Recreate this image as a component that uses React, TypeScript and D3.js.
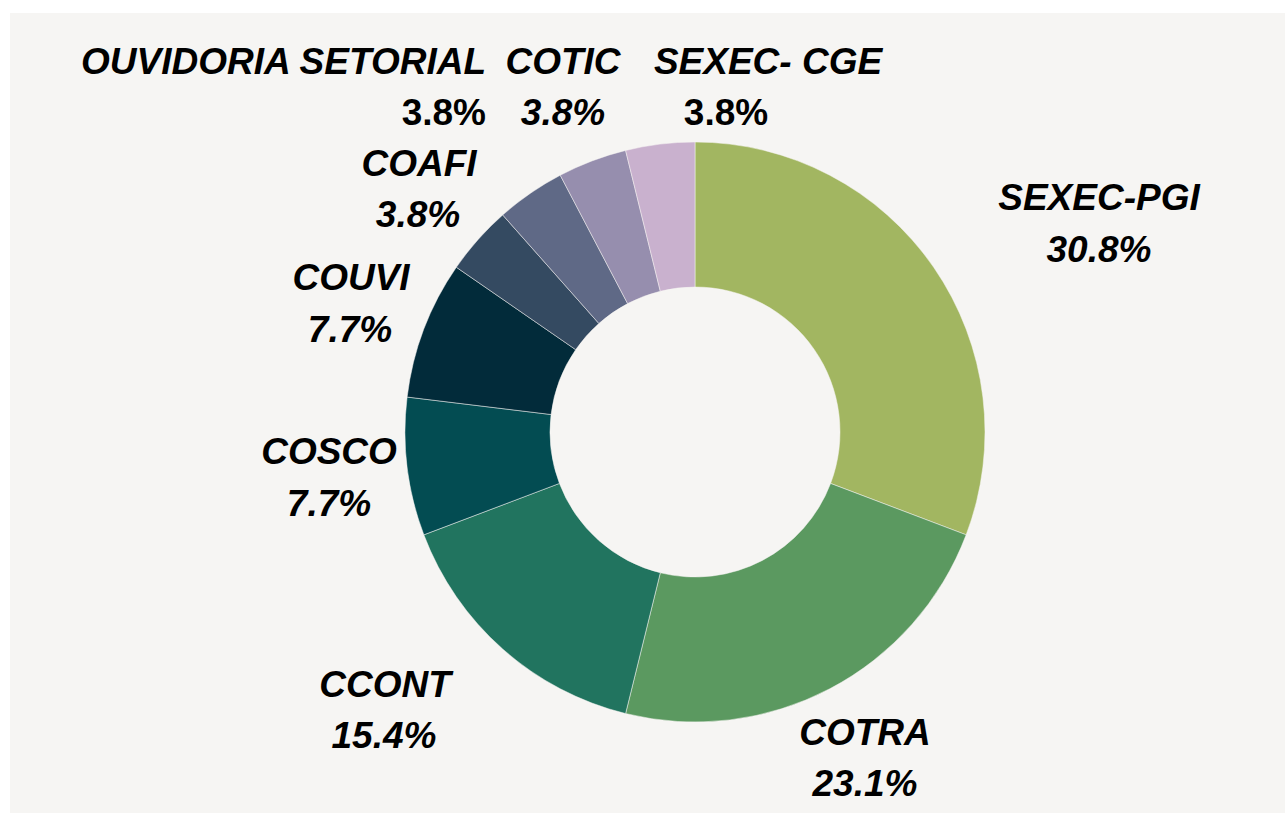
import React, { useEffect, useRef } from 'react';
import * as d3 from 'd3';

// slice order, clockwise from 12 o'clock
const units = ["SEXEC-PGI", "COTRA", "CCONT", "COSCO", "COUVI", "COAFI", "OUVIDORIA SETORIAL", "COTIC", "SEXEC- CGE"];
const counts = [8, 6, 4, 2, 2, 1, 1, 1, 1];
const sliceColors = ["#a2b661", "#5b9960", "#21745f", "#034c52", "#022b3a", "#344a61", "#5f6986", "#968eae", "#c9b1ce"];
const percentLabels = ["30.8%", "23.1%", "15.4%", "7.7%", "7.7%", "3.8%", "3.8%", "3.8%", "3.8%"];

// label layout (name line + value line), placed like the original data labels
const labelLayout = [
    { nx: 1099, ny: 210, vx: 1099, vy: 262, anchor: "middle", valueItalic: true },
    { nx: 865, ny: 745, vx: 865, vy: 796, anchor: "middle", valueItalic: true },
    { nx: 385, ny: 697, vx: 384, vy: 748, anchor: "middle", valueItalic: true },
    { nx: 329, ny: 464, vx: 329, vy: 516, anchor: "middle", valueItalic: true },
    { nx: 351, ny: 290, vx: 350, vy: 342, anchor: "middle", valueItalic: true },
    { nx: 419, ny: 176, vx: 418, vy: 227, anchor: "middle", valueItalic: true },
    { nx: 486, ny: 74, vx: 486, vy: 125, anchor: "end", valueItalic: false },
    { nx: 563, ny: 74, vx: 563, vy: 125, anchor: "middle", valueItalic: true },
    { nx: 768, ny: 74, vx: 726, vy: 125, anchor: "middle", valueItalic: false },
];

const App = () => {
    const chartRef = useRef<SVGSVGElement | null>(null);

    useEffect(() => {
        const width = 1285;
        const height = 813;
        const cx = 695;
        const cy = 432;
        const outerR = 290;
        const innerR = 145;

        const svg = d3.select(chartRef.current);
        svg.selectAll("*").remove();

        svg.append("rect")
            .attr("x", 10)
            .attr("y", 13)
            .attr("width", width - 10)
            .attr("height", height - 13)
            .attr("fill", "#f6f5f3");

        const data = units.map((u, i) => ({ name: u, value: counts[i], i }));

        const pie = d3.pie<any>()
            .sort(null)
            .value(d => d.value);

        const arc = d3.arc<any>()
            .innerRadius(innerR)
            .outerRadius(outerR);

        const g = svg.append("g")
            .attr("transform", "translate(" + cx + "," + cy + ")");

        g.selectAll("path")
            .data(pie(data))
            .enter()
            .append("path")
            .attr("d", arc)
            .attr("fill", d => sliceColors[d.data.i])
            .attr("stroke", "#f6f5f3")
            .attr("stroke-width", 0.5);

        const labels = svg.append("g")
            .style("font-family", "'Liberation Sans', Arial, sans-serif")
            .style("font-weight", "bold")
            .style("font-size", "37px")
            .attr("fill", "#000");

        data.forEach((d, i) => {
            const p = labelLayout[i];
            labels.append("text")
                .attr("x", p.nx)
                .attr("y", p.ny)
                .attr("text-anchor", p.anchor)
                .style("font-style", "italic")
                .text(d.name);
            labels.append("text")
                .attr("x", p.vx)
                .attr("y", p.vy)
                .attr("text-anchor", p.anchor)
                .style("font-style", p.valueItalic ? "italic" : "normal")
                .text(percentLabels[i]);
        });
    }, []);

    return (
        <svg ref={chartRef} width={1285} height={813}
            style={{ position: "absolute", left: 0, top: 0, display: "block" }}></svg>
    );
};

export default App;
